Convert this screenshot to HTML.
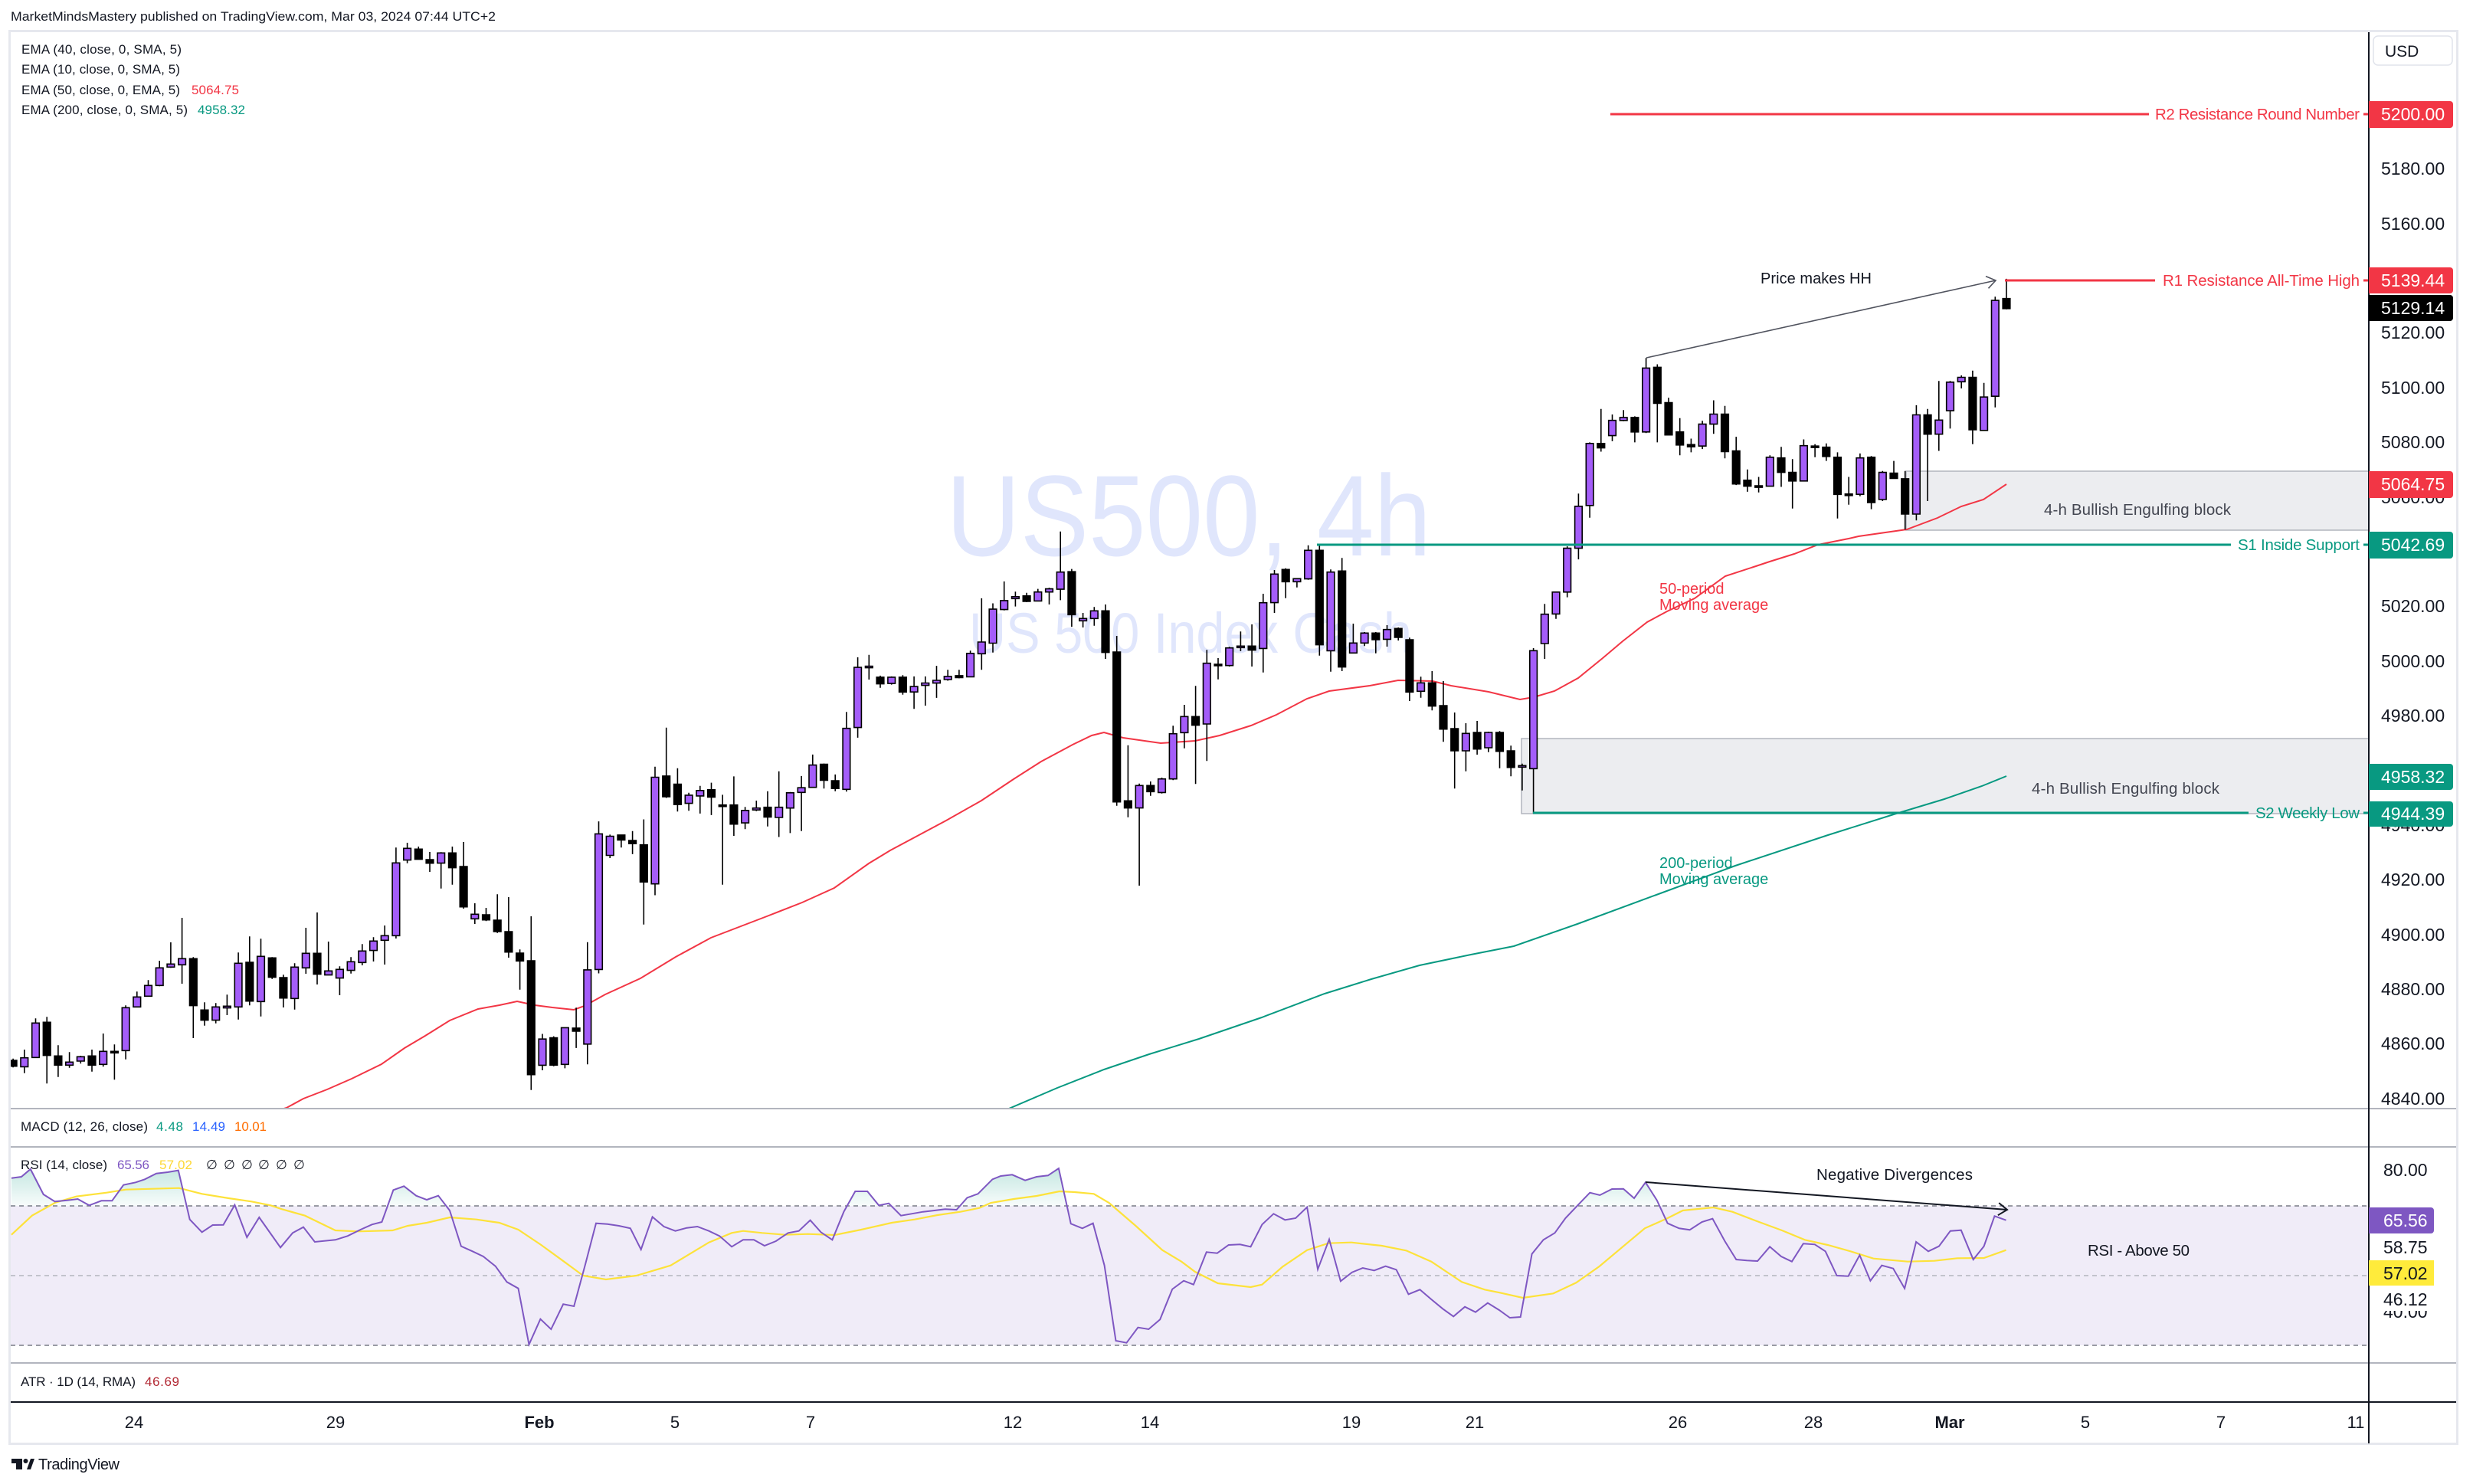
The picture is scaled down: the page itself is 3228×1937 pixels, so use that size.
<!DOCTYPE html>
<html><head><meta charset="utf-8"><title>US500 4h</title>
<style>
html,body{margin:0;padding:0;background:#fff}
body{width:3228px;height:1937px;overflow:hidden}
svg{display:block}
text{font-family:"Liberation Sans","DejaVu Sans",sans-serif}
</style></head><body>
<svg width="3228" height="1937" viewBox="0 0 3228 1937" xmlns="http://www.w3.org/2000/svg">
<defs>
<clipPath id="mc"><rect x="14" y="42" width="3078" height="1404"/></clipPath>
<clipPath id="rc"><rect x="14" y="1498" width="3078" height="280"/></clipPath>
<clipPath id="oc"><rect x="14" y="1498" width="3078" height="76"/></clipPath>
<linearGradient id="og" x1="0" y1="1505" x2="0" y2="1574" gradientUnits="userSpaceOnUse"><stop offset="0" stop-color="#089981" stop-opacity="0.32"/><stop offset="1" stop-color="#089981" stop-opacity="0.03"/></linearGradient>
</defs>
<rect width="3228" height="1937" fill="#fff"/>
<text x="14" y="27" font-size="17" fill="#131722" textLength="633" lengthAdjust="spacingAndGlyphs">MarketMindsMastery published on TradingView.com, Mar 03, 2024 07:44 UTC+2</text>

<!-- frame -->
<rect x="12.5" y="40.5" width="3195" height="1844" fill="#fff" stroke="#e6e8ee" stroke-width="3"/>

<!-- MAIN PANE -->
<g clip-path="url(#mc)">
  <text x="1235" y="725" font-size="150" fill="#e0e6fc" textLength="633" lengthAdjust="spacingAndGlyphs">US500, 4h</text>
  <text x="1265" y="852" font-size="74" fill="#e0e6fc" textLength="578" lengthAdjust="spacingAndGlyphs">US 500 Index Cash</text>
  <!-- engulfing boxes -->
  <rect x="2488" y="615" width="610" height="77" fill="#ecedf0" stroke="#b2b5be" stroke-width="1.5"/>
  <rect x="1986" y="964" width="1110" height="98" fill="#ecedf0" stroke="#b2b5be" stroke-width="1.5"/>
  <!-- moving averages -->
  <polyline fill="none" stroke="#f23645" stroke-width="2" points="360,1450 374,1446 396,1434 427,1422 459,1408 498,1389 528,1368 555,1352 587,1332 624,1317 652,1312 675,1307 698,1312 721,1315 749,1318 763,1313 790,1298 836,1277 882,1249 928,1224 1001,1196 1047,1178 1089,1159 1134,1127 1162,1110 1235,1071 1281,1045 1323,1017 1359,994 1400,972 1425,960 1441,956 1466,963 1515,970 1560,967 1592,960 1633,947 1666,933 1706,912 1735,902 1788,895 1825,888 1870,889 1894,895 1943,903 1984,913 2002,910 2029,902 2060,885 2092,859 2118,837 2150,812 2176,798 2212,781 2252,752 2292,739 2310,733 2342,723 2373,711 2413,703 2426,700 2489,691 2529,676 2560,661 2589,652 2619,632"/>
  <polyline fill="none" stroke="#089981" stroke-width="2" points="1310,1450 1380,1420 1441,1396 1500,1376 1565,1356 1647,1328 1729,1297 1790,1278 1853,1260 1920,1246 1976,1235 2059,1206 2162,1168 2265,1130 2386,1090 2475,1062 2538,1043 2587,1026 2619,1013"/>
  <g id="candles"></g>
  <!-- support / resistance lines -->
  <line x1="2102" y1="149" x2="2805" y2="149" stroke="#f23645" stroke-width="3"/>
  <line x1="2617" y1="366" x2="2813" y2="366" stroke="#f23645" stroke-width="3"/>
  <line x1="1719" y1="711" x2="2912" y2="711" stroke="#089981" stroke-width="3"/>
  <line x1="2001" y1="1061" x2="2935" y2="1061" stroke="#089981" stroke-width="3"/>
  <line x1="3085" y1="149" x2="3092" y2="149" stroke="#f23645" stroke-width="3"/>
  <line x1="3085" y1="366" x2="3092" y2="366" stroke="#f23645" stroke-width="3"/>
  <line x1="3085" y1="711" x2="3092" y2="711" stroke="#089981" stroke-width="3"/>
  <line x1="3085" y1="1061" x2="3092" y2="1061" stroke="#089981" stroke-width="3"/>
  <!-- HH arrow -->
  <line x1="2149" y1="467" x2="2605" y2="366" stroke="#50535e" stroke-width="1.6"/>
  <polyline points="2592,360.6 2605,366 2595.5,376.3" fill="none" stroke="#50535e" stroke-width="1.6"/>
  <text x="2298" y="370" font-size="20" fill="#131722" textLength="145">Price makes HH</text>
  <!-- labels -->
  <text x="2813" y="156" font-size="20.5" fill="#f23645" textLength="267">R2 Resistance Round Number</text>
  <text x="2823" y="373" font-size="20.5" fill="#f23645" textLength="257">R1 Resistance All-Time High</text>
  <text x="2921" y="718" font-size="20.5" fill="#089981" textLength="159">S1 Inside Support</text>
  <text x="2944" y="1068" font-size="20.5" fill="#089981" textLength="136">S2 Weekly Low</text>
  <text x="2668" y="672" font-size="20.5" fill="#434651" textLength="244">4-h Bullish Engulfing block</text>
  <text x="2652" y="1036" font-size="20.5" fill="#434651" textLength="245">4-h Bullish Engulfing block</text>
  <text x="2166" y="775" font-size="20" fill="#f23645">50-period</text>
  <text x="2166" y="796" font-size="20" fill="#f23645">Moving average</text>
  <text x="2166" y="1133" font-size="20" fill="#089981">200-period</text>
  <text x="2166" y="1154" font-size="20" fill="#089981">Moving average</text>
</g>

<!-- legends main -->
<g font-size="17" fill="#131722">
  <text x="28" y="70" textLength="209">EMA (40, close, 0, SMA, 5)</text>
  <text x="28" y="96" textLength="207">EMA (10, close, 0, SMA, 5)</text>
  <text x="28" y="123" textLength="207">EMA (50, close, 0, EMA, 5)</text>
  <text x="250" y="123" fill="#f23645" textLength="62">5064.75</text>
  <text x="28" y="149" textLength="217">EMA (200, close, 0, SMA, 5)</text>
  <text x="258" y="149" fill="#089981" textLength="62">4958.32</text>
</g>

<!-- RSI PANE -->
<g clip-path="url(#rc)">
  <rect x="14" y="1574" width="3078" height="182" fill="#f0ecf8"/>
  <line x1="14" y1="1574" x2="3092" y2="1574" stroke="#787b86" stroke-width="1.6" stroke-dasharray="6,5"/>
  <line x1="14" y1="1665" x2="3092" y2="1665" stroke="#b2b5be" stroke-width="1.6" stroke-dasharray="6,5"/>
  <line x1="14" y1="1756" x2="3092" y2="1756" stroke="#787b86" stroke-width="1.6" stroke-dasharray="6,5"/>
  <g clip-path="url(#oc)"><path id="obfill" fill="url(#og)" d=""/></g>
  <polyline id="rsima" fill="none" stroke="#fde23a" stroke-width="2.2" points=""/>
  <polyline id="rsiline" fill="none" stroke="#7e57c2" stroke-width="2" points=""/>
  <line x1="2148" y1="1543" x2="2620" y2="1579" stroke="#131722" stroke-width="2"/>
  <polyline points="2609.2,1570.1 2620,1579 2607.9,1586.2" fill="none" stroke="#131722" stroke-width="2"/>
  <text x="2371" y="1540" font-size="20.5" fill="#131722" textLength="204">Negative Divergences</text>
  <text x="2725" y="1639" font-size="20.5" fill="#131722" textLength="133">RSI - Above 50</text>
</g>

<!-- pane legends -->
<g font-size="17" fill="#131722">
  <text x="27" y="1476" textLength="166">MACD (12, 26, close)</text>
  <text x="204" y="1476" fill="#089981" textLength="35">4.48</text>
  <text x="251" y="1476" fill="#2962ff" textLength="43">14.49</text>
  <text x="306" y="1476" fill="#ff6d00" textLength="42">10.01</text>
  <text x="27" y="1526" textLength="113">RSI (14, close)</text>
  <text x="153" y="1526" fill="#7e57c2" textLength="42">65.56</text>
  <text x="208" y="1526" fill="#fdd835" textLength="43">57.02</text>
  <text x="269" y="1526">∅</text><text x="292" y="1526">∅</text><text x="315" y="1526">∅</text><text x="337" y="1526">∅</text><text x="360" y="1526">∅</text><text x="383" y="1526">∅</text>
  <text x="27" y="1809" textLength="150">ATR · 1D (14, RMA)</text>
  <text x="189" y="1809" fill="#b22833" textLength="45">46.69</text>
</g>

<!-- separators -->
<line x1="14" y1="1447" x2="3206" y2="1447" stroke="#b2b5be" stroke-width="2"/>
<line x1="14" y1="1497" x2="3206" y2="1497" stroke="#b2b5be" stroke-width="2"/>
<line x1="14" y1="1779" x2="3206" y2="1779" stroke="#b2b5be" stroke-width="2"/>
<line x1="14" y1="1830" x2="3206" y2="1830" stroke="#131722" stroke-width="2"/>
<line x1="3092" y1="42" x2="3092" y2="1884" stroke="#131722" stroke-width="2"/>

<!-- USD box -->
<rect x="3098" y="47" width="103" height="38" rx="6" fill="#fff" stroke="#e0e3eb" stroke-width="1.5"/>
<text x="3113" y="74" font-size="21" fill="#131722">USD</text>

<!-- price axis ticks -->
<g font-size="23" fill="#131722">
  <text x="3108" y="228">5180.00</text>
  <text x="3108" y="300">5160.00</text>
  <text x="3108" y="442">5120.00</text>
  <text x="3108" y="514">5100.00</text>
  <text x="3108" y="585">5080.00</text>
  <text x="3108" y="657">5060.00</text>
  <text x="3108" y="799">5020.00</text>
  <text x="3108" y="871">5000.00</text>
  <text x="3108" y="942">4980.00</text>
  <text x="3108" y="1085">4940.00</text>
  <text x="3108" y="1156">4920.00</text>
  <text x="3108" y="1228">4900.00</text>
  <text x="3108" y="1299">4880.00</text>
  <text x="3108" y="1370">4860.00</text>
  <text x="3108" y="1442">4840.00</text>
</g>
<!-- price label boxes -->
<g font-size="23" fill="#fff">
  <path d="M3092 132h106a4 4 0 0 1 4 4v27a4 4 0 0 1-4 4h-106z" fill="#f23645"/>
  <text x="3108" y="157">5200.00</text>
  <path d="M3092 349h106a4 4 0 0 1 4 4v26a4 4 0 0 1-4 4h-106z" fill="#f23645"/>
  <text x="3108" y="374">5139.44</text>
  <path d="M3092 385h106a4 4 0 0 1 4 4v26a4 4 0 0 1-4 4h-106z" fill="#000"/>
  <text x="3108" y="410">5129.14</text>
  <path d="M3092 615h106a4 4 0 0 1 4 4v27a4 4 0 0 1-4 4h-106z" fill="#f23645"/>
  <text x="3108" y="640">5064.75</text>
  <path d="M3092 694h106a4 4 0 0 1 4 4v27a4 4 0 0 1-4 4h-106z" fill="#089981"/>
  <text x="3108" y="719">5042.69</text>
  <path d="M3092 997h106a4 4 0 0 1 4 4v26a4 4 0 0 1-4 4h-106z" fill="#089981"/>
  <text x="3108" y="1022">4958.32</text>
  <path d="M3092 1046h106a4 4 0 0 1 4 4v25a4 4 0 0 1-4 4h-106z" fill="#089981"/>
  <text x="3108" y="1070">4944.39</text>
</g>
<!-- RSI axis -->
<g font-size="23" fill="#131722">
  <text x="3111" y="1535">80.00</text>
  <text x="3111" y="1720">40.00</text>
  <rect x="3093" y="1611" width="84" height="34" fill="#fff"/>
  <rect x="3093" y="1679" width="84" height="32" fill="#fff"/>
  <text x="3111" y="1636">58.75</text>
  <text x="3111" y="1704">46.12</text>
  <path d="M3092 1576h81a4 4 0 0 1 4 4v26a4 4 0 0 1-4 4h-81z" fill="#7e57c2"/>
  <text x="3111" y="1601" fill="#fff">65.56</text>
  <rect x="3092" y="1645" width="85" height="33" fill="#ffeb3b"/>
  <text x="3111" y="1670">57.02</text>
</g>

<!-- time axis -->
<g font-size="22" fill="#131722" text-anchor="middle">
  <text x="175" y="1864">24</text>
  <text x="438" y="1864">29</text>
  <text x="704" y="1864" font-weight="bold">Feb</text>
  <text x="881" y="1864">5</text>
  <text x="1058" y="1864">7</text>
  <text x="1322" y="1864">12</text>
  <text x="1501" y="1864">14</text>
  <text x="1764" y="1864">19</text>
  <text x="1925" y="1864">21</text>
  <text x="2190" y="1864">26</text>
  <text x="2367" y="1864">28</text>
  <text x="2545" y="1864" font-weight="bold">Mar</text>
  <text x="2722" y="1864">5</text>
  <text x="2899" y="1864">7</text>
  <text x="3075" y="1864">11</text>
</g>

<!-- TradingView logo -->
<g fill="#131722">
  <rect x="15" y="1904" width="14" height="6"/>
  <rect x="21" y="1904" width="8" height="14"/>
  <circle cx="33.5" cy="1907" r="3"/>
  <polygon points="35,1918 40,1904 45,1904 40,1918"/>
</g>
<text x="50" y="1918" font-size="20" fill="#131722" textLength="106">TradingView</text>
</svg>

<script>
(function(){
var NS='http://www.w3.org/2000/svg';
var cg=document.getElementById('candles');
var Z7=[[0,912,935,905,940],[1,902,937,870,962],[1,766,901,748,901],[0,763,893,742,1003],[0,895,931,853,977],[1,919,931,880,941],[1,898,915,894,925],[0,895,931,870,956],[1,877,928,807,937],[0,877,879,850,988],[1,706,874,697,908],[1,664,703,643,703],[1,619,661,598,661],[1,550,619,522,622],[1,535,547,450,550],[1,514,538,354,612],[0,514,698,508,825],[0,715,755,685,776],[1,703,755,688,767],[1,700,707,655,735],[1,532,703,490,752],[0,528,680,427,697],[1,505,682,436,740],[0,511,587,508,593],[0,588,668,577,705],[1,547,670,532,713],[1,493,550,393,573],[0,493,575,333,615],[1,562,578,447,578],[1,556,590,544,657],[1,526,560,508,572],[1,484,529,457,540],[1,445,482,430,525],[1,424,442,384,537],[1,139,424,79,435],[1,82,128,60,140],[0,85,125,75,125],[0,126,140,96,174],[1,100,140,97,239],[0,100,158,75,224],[0,153,311,57,318],[1,340,358,297,378],[0,342,362,315,367],[0,363,408,262,413],[0,408,488,273,510],[0,492,523,478,635],[0,522,968,348,1028]];
var Z8=[[1,1365,1432,1352,1445],[0,1362,1432,1358,1435],[1,1336,1430,1336,1440],[0,1337,1345,1285,1388],[1,1188,1378,1117,1430],[1,840,1187,808,1197],[1,846,895,842,902],[0,843,856,843,875],[0,857,865,833,892],[0,868,963,803,1072],[1,695,968,668,997],[0,692,745,568,748],[0,713,765,672,783],[1,741,762,735,781],[1,729,743,717,788],[0,727,746,709,792],[0,766,768,740,970],[0,766,815,693,845],[1,780,812,771,828],[1,774,779,755,782],[0,772,797,731,821],[1,772,798,680,848],[1,735,774,733,838],[1,722,734,692,833],[1,664,721,637,722],[0,662,703,660,724],[0,704,724,688,731],[1,570,726,528,732],[1,414,568,388,594],[1,411,415,382,445],[0,439,456,435,466],[1,439,455,437,458],[0,439,477,434,484],[1,463,477,437,520],[1,454,460,437,512],[1,447,454,410,492],[1,437,445,420,448],[0,435,440,420,442],[1,378,438,371,438],[1,349,379,237,420],[1,265,352,250,376],[1,243,266,194,268],[1,233,238,220,258],[0,231,245,223,247],[1,221,244,213,244],[1,213,221,210,253],[1,170,214,66,242],[0,169,279,162,310]];
var Z9=[[1,502,511,480,537],[1,472,502,457,530],[0,472,635,447,660],[0,633,1220,570,1235],[0,1216,1244,998,1280],[1,1156,1244,1148,1548],[0,1156,1180,1140,1196],[1,1130,1183,1125,1187],[1,953,1130,922,1135],[1,886,949,840,1010],[0,886,920,766,1150],[1,677,915,625,1060],[0,681,683,657,740],[1,617,686,613,690],[1,610,616,553,630],[0,610,626,525,690],[1,440,619,405,713],[1,328,440,312,480],[0,310,358,305,422],[1,346,358,346,380],[1,235,347,215,350],[0,235,605,210,647],[1,320,628,310,710],[0,316,692,265,708],[1,598,637,522,637],[1,559,598,555,610],[0,559,585,555,638],[1,545,583,528,612],[0,541,576,537,588],[0,585,790,577,825],[1,754,787,730,812],[0,754,845,708,862],[0,843,935,747,985],[0,933,1020,870,1168],[1,952,1020,912,1100],[0,948,1013,903,1035],[1,948,1008,945,1025],[0,948,1022,943,1088],[0,1020,1085,1000,1120],[1,1078,1083,1070,1175],[1,628,1090,618,1265],[1,485,600,445,660]];
var Z10=[[1,913,972,913,985],[1,795,913,790,927],[1,682,795,648,825],[1,513,680,510,713],[0,513,525,420,535],[1,451,492,435,507],[1,443,451,423,453],[0,443,482,440,510],[1,310,482,283,485],[0,308,405,300,510],[0,403,490,390,490],[0,482,517,445,545],[0,516,522,500,537],[1,461,520,452,528],[1,434,461,397,487],[0,434,535,412,553],[0,533,622,495,625],[0,612,628,583,643],[0,627,628,603,645],[1,550,628,545,628],[0,552,591,522,630],[0,591,614,555,688],[1,519,614,502,614],[0,520,522,515,550],[0,523,548,513,560],[0,550,650,537,715],[0,649,651,603,678],[1,552,650,540,655],[0,550,672,547,690],[1,591,664,587,668],[0,593,607,560,608],[0,608,703,587,745],[1,436,703,410,720],[0,436,488,420,668],[1,450,488,345,533],[1,348,425,345,473],[1,335,347,330,365],[0,335,476,317,515],[1,388,478,350,478],[1,128,386,118,416],[0,123,150,70,152]];
var sets=[[Z7,1080,1/3],[Z8,660,0.51],[Z9,640,1/3],[Z10,330,0.485]];
var X0=17.1,S=14.70,i=0,wk='',bu='',be='';
sets.forEach(function(s){var arr=s[0],y0=s[1],ys=s[2];arr.forEach(function(c){
  var x=X0+i*S;i++;
  var bt=y0+c[1]*ys,bb=y0+c[2]*ys,wt=y0+c[3]*ys,wb=y0+c[4]*ys;
  wk+='M'+x.toFixed(1)+' '+wt.toFixed(1)+'V'+wb.toFixed(1);
  var h=Math.max(bb-bt,2);
  var r='M'+(x-4.8).toFixed(1)+' '+bt.toFixed(1)+'h9.6v'+h.toFixed(1)+'h-9.6z';
  if(c[0])bu+=r;else be+=r;
});});
function mk(tag,a,p){var e=document.createElementNS(NS,tag);for(var k in a)e.setAttribute(k,a[k]);p.appendChild(e);return e;}
mk('path',{d:wk,stroke:'#000','stroke-width':1.6,fill:'none'},cg);
mk('path',{d:bu,fill:'#a45df9',stroke:'#000','stroke-width':1.6},cg);
mk('path',{d:be,fill:'#000',stroke:'#000','stroke-width':1.6},cg);

var R11=[[15,143],[28,138],[40,108],[57,207],[72,235],[88,230],[102,225],[117,250],[133,232],[147,232],[162,170],[178,160],[190,148],[205,125],[220,120],[234,113],[249,305],[265,355],[279,327],[293,326],[308,248],[324,375],[340,297],[368,415],[384,358],[398,335],[413,393],[440,385],[456,370],[473,345],[488,325],[501,315],[516,190],[530,175],[546,212],[560,228],[575,212],[590,270],[605,410],[620,430],[634,450],[650,488],[665,550],[680,575],[694,795],[709,695],[723,735],[739,637],[753,645],[768,480],[782,320],[797,323],[812,330],[827,340],[841,423],[856,295],[871,333],[886,350],[901,338],[915,333],[930,350],[944,370],[960,412],[975,385],[989,385],[1003,408],[1018,390],[1034,358],[1048,350],[1063,308],[1077,355],[1092,385],[1107,275],[1122,195],[1138,195],[1153,250],[1166,242],[1182,290],[1196,283],[1211,275],[1226,270],[1240,265],[1255,267],[1269,220],[1283,205],[1302,148],[1313,135],[1328,130],[1345,152],[1360,138],[1375,133],[1389,105],[1405,322],[1420,340],[1434,320],[1449,485],[1464,780],[1478,788],[1493,728],[1507,735],[1522,697],[1538,578],[1553,545]];
var R12=[[18,560],[35,433],[49,437],[64,405],[79,403],[93,412],[108,325],[123,283],[138,307],[152,300],[167,257],[181,500],[196,383],[211,547],[226,512],[240,495],[255,505],[270,488],[284,502],[300,598],[315,580],[330,618],[345,655],[359,685],[374,647],[388,668],[404,632],[419,660],[433,690],[447,687],[462,440],[477,385],[492,358],[506,300],[522,250],[538,200],[551,210],[567,186],[582,185],[596,222],[611,160],[626,230],[640,320],[655,340],[669,346],[685,315],[699,302],[715,390],[730,462],[744,466],[758,468],[774,412],[789,450],[803,470],[818,400],[833,403],[847,430],[862,525],[877,527],[892,445],[906,545],[921,485],[936,497],[951,575],[966,393],[982,430],[996,410],[1011,350],[1025,347],[1041,462],[1055,410],[1069,292],[1084,308]];
var Y11=[[15,365],[42,290],[72,240],[100,215],[140,200],[165,188],[200,185],[235,182],[265,205],[300,222],[330,235],[355,250],[370,265],[400,290],[440,348],[470,352],[515,348],[535,330],[560,318],[590,297],[625,305],[655,318],[680,345],[710,405],[740,470],[765,525],[795,540],[835,525],[880,485],[905,440],[930,395],[960,358],[975,350],[1000,358],[1030,365],[1060,362],[1095,366],[1130,345],[1170,318],[1200,305],[1230,288],[1260,275],[1285,260],[1300,240],[1330,225],[1360,213],[1390,195],[1410,198],[1435,205],[1455,240],[1490,330],[1525,425],[1550,470]];
var Y12=[[20,510],[50,555],[93,570],[108,560],[135,490],[167,425],[195,398],[225,395],[265,408],[297,427],[330,470],[370,550],[400,580],[420,592],[450,612],[490,595],[520,553],[550,490],[580,415],[610,340],[640,300],[660,270],[700,258],[725,275],[760,315],[790,348],[820,385],[850,405],[880,430],[910,458],[955,470],[990,467],[1020,457],[1055,456],[1084,425]];
var xs=1560/1568;
function conv(a,x0){return a.map(function(p){return [x0+p[0]*xs,1490+p[1]/3];});}
var rsi=conv(R11,0).concat(conv(R12,1540));
var ma=conv(Y11,0).concat(conv(Y12,1540));
function ps(a){return a.map(function(p){return p[0].toFixed(1)+','+p[1].toFixed(1);}).join(' ');}
document.getElementById('rsiline').setAttribute('points',ps(rsi));
document.getElementById('rsima').setAttribute('points',ps(ma));
var d='M'+rsi[0][0].toFixed(1)+' 1574';
rsi.forEach(function(p){d+='L'+p[0].toFixed(1)+' '+p[1].toFixed(1);});
d+='L'+rsi[rsi.length-1][0].toFixed(1)+' 1574Z';
document.getElementById('obfill').setAttribute('d',d);
})();
</script>
</body></html>
